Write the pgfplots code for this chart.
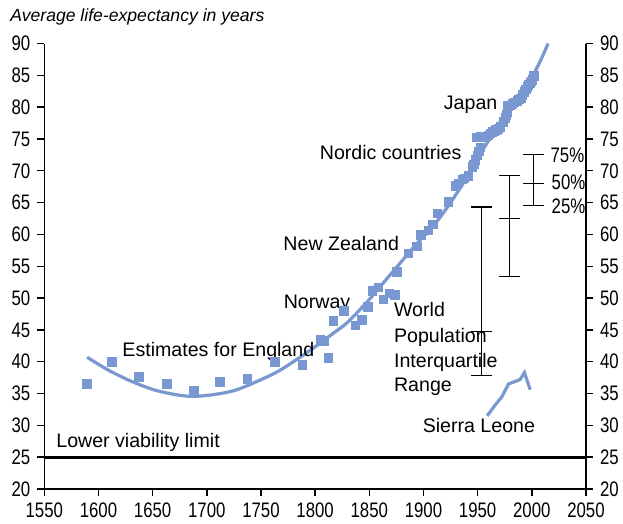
\documentclass[border=0pt]{standalone}
\usepackage{fontspec}
\setmainfont{Liberation Sans}
\newfontfamily\tickfont{Liberation Sans}[FakeStretch=0.8]
\usepackage{pgfplots}
\pgfplotsset{compat=1.18}
\definecolor{lblue}{RGB}{121,151,208}
\tikzset{lab/.style={font=\fontsize{9.8}{12}\selectfont, inner sep=0pt, anchor=base west}}
\begin{document}
\begin{tikzpicture}
\path[use as bounding box] (-22.15pt,-17.5pt) rectangle (289.35pt,244.5pt);
\pgfplotsset{
  base/.style={
    scale only axis, width=270.85pt, height=222.75pt,
    xmin=1550, xmax=2050, ymin=20, ymax=90,
    ytick={20,25,...,90}, xtick={1550,1600,...,2050},
    tick align=outside, major tick length=3.5pt,
    /pgf/number format/1000 sep={},
    /pgf/number format/assume math mode=true,
    tick label style={font=\tickfont\fontsize{10.5}{12}\selectfont},
    axis line style={line width=0.7pt},
    every tick/.style={line width=0.7pt, black},
  },
}
\begin{axis}[base, axis x line*=bottom, axis y line*=left, clip=false]
% trend line
\addplot[lblue, line width=1.6pt, smooth] coordinates {
(1589.5,40.7) (1610,38.6) (1632,36.8) (1655,35.4) (1681,34.6) (1700,34.7)
(1724,35.4) (1745,36.8) (1768,38.7) (1798,42.1) (1817,44.5) (1830,46.2)
(1848,49.4) (1862,52.2) (1878,55.4) (1893,58.4) (1909,61.3) (1925,65.0)
(1942,69.5) (1967,76.7) (2000,84.7) (2015,90.0)};
% data points
\addplot[only marks, mark=square*, mark size=2.1pt, color=lblue] coordinates {
(1589.5,36.5) (1612.5,40.0) (1637.5,37.6) (1663.3,36.5) (1688.2,35.4)
(1712.2,36.8) (1737.2,37.3) (1763,40.0) (1788,39.5)
(1804.6,43.4) (1808,43.3) (1812,40.6) (1817,46.4) (1826.7,48.0)
(1837,45.7) (1843,46.6) (1848.6,48.6) (1853,51.1) (1858.4,51.7)
(1863,49.8) (1868.6,50.75) (1873.8,50.5)
(1875.4,54.1) (1886,57.0) (1894,58.1) (1897.5,59.9) (1904.6,60.6)
(1908.6,61.6) (1913,63.3) (1923,65.1)
(1929.3,67.6) (1932,68.0) (1935.8,68.6) (1938,68.8) (1941.3,69.2)
(1945,70.6) (1946.5,71.0) (1948,71.7) (1949.5,72.4) (1951,73.0) (1952.6,73.7)
(1948.7,75.2) (1950.5,75.2) (1952.4,75.3) (1954,75.3) (1956,75.3) (1958,75.4) (1960,75.6)
(1962,75.9) (1963.5,76.1) (1965,76.2) (1967,76.4) (1969,76.6) (1971,76.9) (1973.5,77.7)
(1975.4,78.3) (1976.3,78.8) (1977.3,79.2) (1978,80.2) (1980,80.3) (1982,80.5)
(1984,80.7) (1986.7,81.0) (1988,81.2) (1990,81.4) (1991.5,81.9) (1993,82.4)
(1994.5,82.8) (1996,83.2) (1997,83.5) (1998.5,83.8) (1999.5,84.0) (2000.6,84.3) (2002,84.9)};
% Sierra Leone
\addplot[lblue, line width=1.6pt] coordinates {
(1958.8,31.5) (1966.2,33.2) (1972.4,34.5) (1978.5,36.5) (1989.2,37.2) (1993.2,38.3) (1998.5,35.6)};
% lower viability limit
\addplot[black, line width=1.4pt] coordinates {(1550,25) (2050,25)};
% interquartile ranges
\addplot[black, line width=0.6pt, only marks, mark=-, mark size=5.25pt,
  mark options={line width=0.6pt},
  error bars/.cd, y dir=both, y explicit, error mark=-,
  error mark options={rotate=90, mark size=5.25pt, line width=0.6pt},
  error bar style={line width=0.6pt}]
 coordinates {
 (1953.2,44.8) += (0,19.5) -= (0,7.0)
 (1979.4,62.5) += (0,6.7) -= (0,9.1)
 (2001.5,68.0) += (0,4.5) -= (0,3.5)};
% labels
\node[lab] at (axis cs:1621.8,40.79) {Estimates for England};
\node[lab] at (axis cs:1770.7,48.4) {Norway};
\node[lab] at (axis cs:1770.4,57.5) {New Zealand};
\node[lab] at (axis cs:1872.5,47.1) {World};
\node[lab] at (axis cs:1872.5,43.05) {Population};
\node[lab] at (axis cs:1872.5,39.06) {Interquartile};
\node[lab] at (axis cs:1872.5,35.3) {Range};
\node[lab] at (axis cs:1918.5,79.66) {Japan};
\node[lab] at (axis cs:1804,71.7) {Nordic countries};
\node[lab, font=\tickfont\fontsize{10.5}{12}\selectfont] at (axis cs:2017,71.3) {75\%};
\node[lab, font=\tickfont\fontsize{10.5}{12}\selectfont] at (axis cs:2018,67.0) {50\%};
\node[lab, font=\tickfont\fontsize{10.5}{12}\selectfont] at (axis cs:2018,63.3) {25\%};
\node[lab] at (axis cs:1899,28.85) {Sierra Leone};
\node[lab] at (axis cs:1560.8,26.55) {Lower viability limit};
\end{axis}
\begin{axis}[base, axis y line*=right, hide x axis]
\end{axis}
\node[inner sep=0pt, anchor=base west, font=\itshape\fontsize{8.8}{10}\selectfont] at (-17.15pt,233.7pt) {Average life-expectancy in years};
\end{tikzpicture}
\end{document}
